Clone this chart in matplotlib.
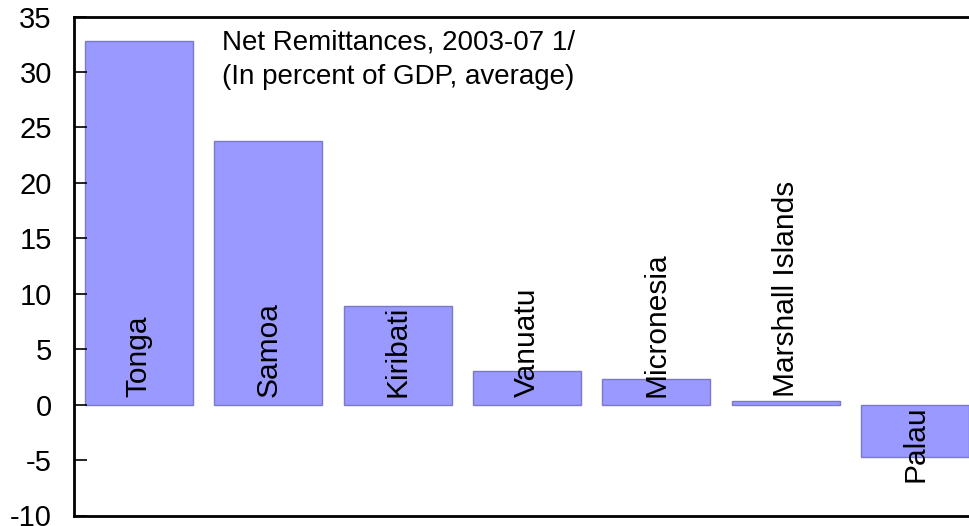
import matplotlib.pyplot as plt
import numpy as np

plt.rcParams['font.family'] = ['Liberation Sans', 'DejaVu Sans']
plt.rcParams['axes.unicode_minus'] = False

countries = ['Tonga', 'Samoa', 'Kiribati', 'Vanuatu', 'Micronesia',
             'Marshall Islands', 'Palau']
remittances = [32.8, 23.8, 8.9, 3.0, 2.3, 0.35, -4.7]
yticks = [-10, -5, 0, 5, 10, 15, 20, 25, 30, 35]

fig = plt.figure(figsize=(9.7, 5.26), dpi=100)
ax = fig.add_axes([74 / 970, 10.5 / 526, 906 / 970, 499 / 526])

x = np.arange(len(countries))
ax.bar(x, remittances, width=0.834, color='#9999ff',
       edgecolor='#7a7ac8', linewidth=1)

# country names written vertically inside the bars
for xi, name, val in zip(x, countries, remittances):
    ypos = 0.7 if val >= 0 else -7.0
    ax.text(xi, ypos, name, rotation=90, ha='center', va='bottom',
            fontsize=21.5)

ax.text(0.64, 33.8, 'Net Remittances, 2003-07 1/\n(In percent of GDP, average)',
        ha='left', va='top', fontsize=20, linespacing=1.42)

ax.set_xlim(-0.5, 6.5)
ax.set_ylim(-10, 35)
ax.set_yticks(yticks)
ax.set_xticks([])
ax.tick_params(axis='y', direction='in', length=9, width=1.2, pad=16,
               labelsize=21)
for side in ['left', 'top', 'bottom']:
    ax.spines[side].set_linewidth(2)
ax.spines['right'].set_visible(False)

plt.savefig('out.png', dpi=100)
plt.close('all')
